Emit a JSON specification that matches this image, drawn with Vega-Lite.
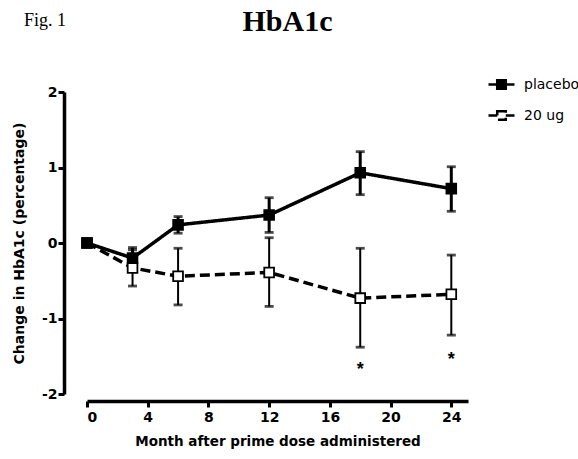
{
  "$schema": "https://vega.github.io/schema/vega-lite/v6.json",
  "width": 381,
  "height": 302,
  "autosize": {"type": "none"},
  "padding": {"left": 87, "top": 92, "right": 110, "bottom": 65},
  "background": "white",
  "title": {
    "text": "HbA1c",
    "font": "Liberation Serif",
    "fontSize": 30,
    "fontWeight": "bold",
    "color": "black",
    "anchor": "middle",
    "frame": "group",
    "baseline": "alphabetic",
    "dx": 10,
    "dy": 49,
    "offset": 0
  },
  "config": {
    "view": {"stroke": null},
    "font": "DejaVu Sans",
    "axis": {
      "grid": false,
      "domainColor": "black",
      "domainWidth": 3.5,
      "tickColor": "black",
      "tickWidth": 3,
      "tickSize": 6,
      "labelColor": "black",
      "labelFont": "DejaVu Sans",
      "labelFontSize": 14,
      "labelFontWeight": "bold",
      "titleColor": "black",
      "titleFont": "DejaVu Sans",
      "titleFontSize": 13.5,
      "titleFontWeight": "bold"
    },
    "legend": {
      "orient": "none",
      "legendX": 400,
      "legendY": -22,
      "padding": 0,
      "symbolType": "M-1,0H-0.33M0.33,0H1M-0.33,-0.33H0.33V0.33H-0.33Z",
      "symbolSize": 676,
      "symbolStrokeWidth": 2.5,
      "symbolStrokeColor": "black",
      "labelFont": "DejaVu Sans",
      "labelFontSize": 14,
      "labelColor": "black",
      "labelOffset": 8,
      "rowPadding": 7
    }
  },
  "datasets": {
    "hba1c": [
      {"month": 0, "group": "20 ug", "mean": 0.0, "lo": null, "hi": null},
      {"month": 3, "group": "20 ug", "mean": -0.33, "lo": -0.57, "hi": -0.09},
      {"month": 6, "group": "20 ug", "mean": -0.44, "lo": -0.82, "hi": -0.07},
      {"month": 12, "group": "20 ug", "mean": -0.39, "lo": -0.84, "hi": 0.07},
      {"month": 18, "group": "20 ug", "mean": -0.73, "lo": -1.38, "hi": -0.07},
      {"month": 24, "group": "20 ug", "mean": -0.68, "lo": -1.22, "hi": -0.16},
      {"month": 0, "group": "placebo", "mean": 0.0, "lo": null, "hi": null},
      {"month": 3, "group": "placebo", "mean": -0.20, "lo": -0.35, "hi": -0.06},
      {"month": 6, "group": "placebo", "mean": 0.24, "lo": 0.13, "hi": 0.35},
      {"month": 12, "group": "placebo", "mean": 0.37, "lo": 0.14, "hi": 0.60},
      {"month": 18, "group": "placebo", "mean": 0.93, "lo": 0.64, "hi": 1.21},
      {"month": 24, "group": "placebo", "mean": 0.72, "lo": 0.42, "hi": 1.01}
    ],
    "stars": [
      {"month": 18, "pos": -1.68, "label": "*"},
      {"month": 24, "pos": -1.55, "label": "*"}
    ],
    "fig": [
      {"month": -4.15, "pos": 2.875, "label": "Fig. 1"}
    ]
  },
  "layer": [
    {
      "data": {"name": "hba1c"},
      "mark": {"type": "rule", "color": "black"},
      "encoding": {
        "x": {"field": "month", "type": "quantitative", "scale": {"domain": [0, 25.1], "nice": false, "zero": false},
              "axis": {"values": [0, 4, 8, 12, 16, 20, 24], "offset": 7, "labelPadding": 3, "title": "Month after prime dose administered", "titlePadding": 10}},
        "y": {"field": "lo", "type": "quantitative", "scale": {"domain": [-2, 2], "nice": false},
              "axis": {"values": [-2, -1, 0, 1, 2], "labelExpr": "'' + datum.value", "offset": 23, "tickSize": 6, "labelPadding": 1, "title": "Change in HbA1c (percentage)", "titleFontSize": 14, "titlePadding": 15}},
        "y2": {"field": "hi"},
        "strokeWidth": {"field": "group", "type": "ordinal", "scale": {"domain": ["20 ug", "placebo"], "range": [2, 3]}, "legend": null}
      }
    },
    {
      "data": {"name": "hba1c"},
      "mark": {"type": "tick", "orient": "horizontal", "color": "black", "size": 9, "thickness": 2.8},
      "encoding": {
        "x": {"field": "month", "type": "quantitative"},
        "y": {"field": "lo", "type": "quantitative"}
      }
    },
    {
      "data": {"name": "hba1c"},
      "mark": {"type": "tick", "orient": "horizontal", "color": "black", "size": 9, "thickness": 2.8},
      "encoding": {
        "x": {"field": "month", "type": "quantitative"},
        "y": {"field": "hi", "type": "quantitative"}
      }
    },
    {
      "data": {"name": "hba1c"},
      "mark": {"type": "line", "color": "black", "strokeWidth": 3.5},
      "encoding": {
        "x": {"field": "month", "type": "quantitative"},
        "y": {"field": "mean", "type": "quantitative"},
        "strokeDash": {"field": "group", "type": "nominal", "scale": {"domain": ["placebo", "20 ug"], "range": [[1, 0], [10, 5]]}, "legend": {"title": null}}
      }
    },
    {
      "data": {"name": "hba1c"},
      "mark": {"type": "point", "shape": "square", "filled": false, "size": 95, "stroke": "black", "strokeWidth": 1.8, "opacity": 1},
      "encoding": {
        "x": {"field": "month", "type": "quantitative"},
        "y": {"field": "mean", "type": "quantitative"},
        "fill": {"field": "group", "type": "nominal", "scale": {"domain": ["placebo", "20 ug"], "range": ["black", "white"]}, "legend": {"title": null}}
      }
    },
    {
      "data": {"name": "stars"},
      "mark": {"type": "text", "font": "Liberation Sans", "fontSize": 18, "fontWeight": "bold", "color": "black", "baseline": "middle"},
      "encoding": {
        "x": {"field": "month", "type": "quantitative"},
        "y": {"field": "pos", "type": "quantitative"},
        "text": {"field": "label"}
      }
    },
    {
      "data": {"name": "fig"},
      "mark": {"type": "text", "font": "Liberation Serif", "fontSize": 18, "color": "black", "align": "left", "baseline": "alphabetic"},
      "encoding": {
        "x": {"field": "month", "type": "quantitative"},
        "y": {"field": "pos", "type": "quantitative"},
        "text": {"field": "label"}
      }
    }
  ]
}
